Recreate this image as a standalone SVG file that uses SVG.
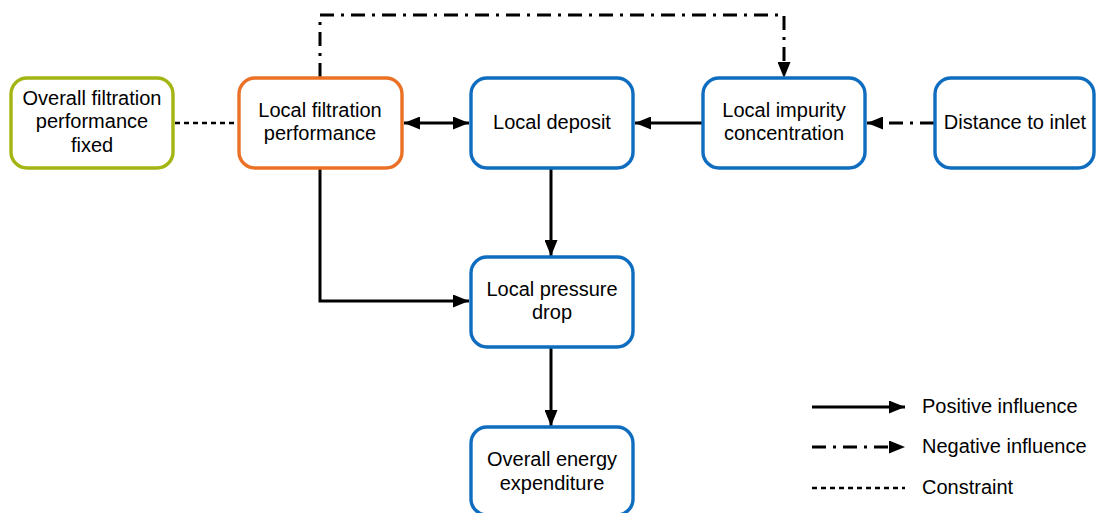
<svg xmlns="http://www.w3.org/2000/svg" width="1096" height="513" viewBox="0 0 1096 513">
<style>
.box{fill:#fff;stroke-width:3.4}
.blue{stroke:#0F6DBF}
.orange{stroke:#EA7125}
.green{stroke:#A3B512}
text{font-family:"Liberation Sans",Arial,sans-serif;font-size:20px;fill:#000;text-anchor:middle}
.lg{text-anchor:start}
.ln{fill:none;stroke:#000;stroke-width:3}
.dd{stroke-dasharray:14 7 3 7}
.dt{stroke-dasharray:5 4;stroke-width:2.6}
</style>
<defs>
<marker id="ah" viewBox="0 0 16 13" refX="16" refY="6.5" markerWidth="16" markerHeight="13" markerUnits="userSpaceOnUse" orient="auto-start-reverse">
<path d="M0,0 L16,6.5 L0,13 Z" fill="#000"/>
</marker>
</defs>
<rect width="1096" height="513" fill="#fff"/>
<g id="connectors">
<path class="ln dd" d="M320,77 V15 H784 V78" marker-end="url(#ah)"/>
<path class="ln dt" d="M175,123 H237"/>
<path class="ln" d="M404,123 H469" marker-start="url(#ah)" marker-end="url(#ah)"/>
<path class="ln" d="M702,123 H635" marker-end="url(#ah)"/>
<path class="ln dd" d="M934,123 H867" marker-end="url(#ah)"/>
<path class="ln" d="M551,168 V256" marker-end="url(#ah)"/>
<path class="ln" d="M320,169 V301 H469" marker-end="url(#ah)"/>
<path class="ln" d="M551,348 V426" marker-end="url(#ah)"/>
</g>
<g id="n-overall-filtration">
<rect class="box green" x="11" y="78" width="162" height="90" rx="16"/>
<text x="92" y="105">Overall filtration</text>
<text x="92" y="128">performance</text>
<text x="92" y="152">fixed</text>
</g>
<g id="n-local-filtration">
<rect class="box orange" x="239" y="78" width="163" height="90" rx="16"/>
<text x="320" y="117">Local filtration</text>
<text x="320" y="140">performance</text>
</g>
<g id="n-local-deposit">
<rect class="box blue" x="471" y="78" width="162" height="90" rx="16"/>
<text x="552" y="129">Local deposit</text>
</g>
<g id="n-local-impurity">
<rect class="box blue" x="703" y="78" width="162" height="90" rx="16"/>
<text x="784" y="117">Local impurity</text>
<text x="784" y="140">concentration</text>
</g>
<g id="n-distance">
<rect class="box blue" x="935" y="78" width="159" height="90" rx="16"/>
<text x="1015" y="129">Distance to inlet</text>
</g>
<g id="n-pressure">
<rect class="box blue" x="471" y="257" width="162" height="90" rx="16"/>
<text x="552" y="296">Local pressure</text>
<text x="552" y="319">drop</text>
</g>
<g id="n-energy">
<rect class="box blue" x="471" y="427" width="162" height="88" rx="16"/>
<text x="552" y="466">Overall energy</text>
<text x="552" y="490">expenditure</text>
</g>
<g id="legend">
<path class="ln" d="M812,407 H905" marker-end="url(#ah)"/>
<path class="ln dd" d="M812,447 H905" marker-end="url(#ah)"/>
<path class="ln dt" d="M812,488 H905"/>
<text class="lg" x="922" y="413">Positive influence</text>
<text class="lg" x="922" y="453">Negative influence</text>
<text class="lg" x="922" y="494">Constraint</text>
</g>
</svg>
